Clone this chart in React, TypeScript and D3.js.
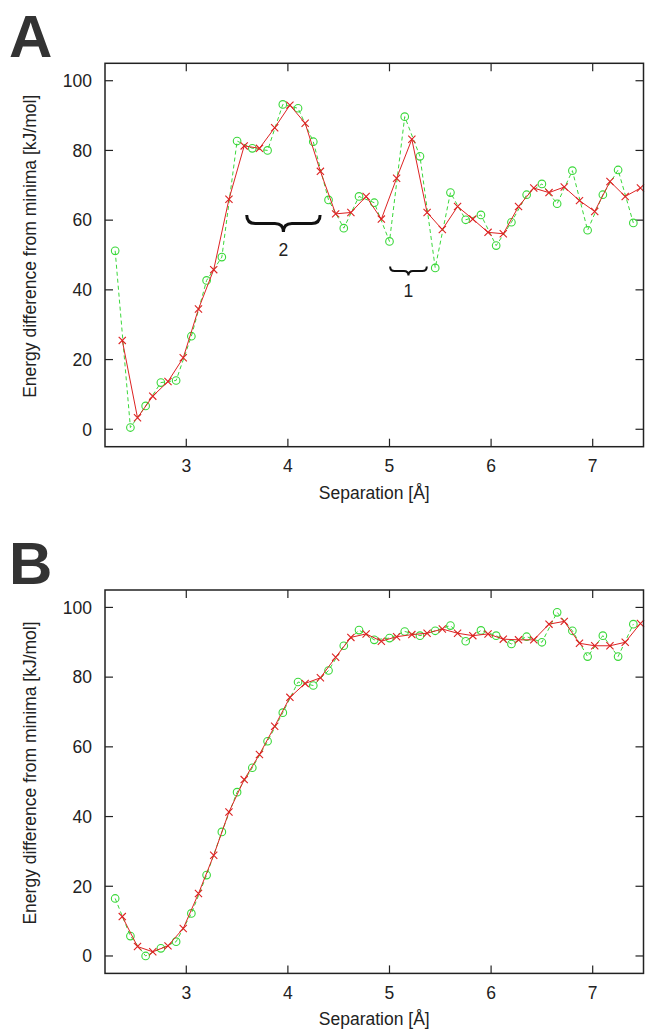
import React from 'react'
import * as d3 from 'd3'

// separations (Å) of the two sampled series, shared by both panels
const greenX = [2.30, 2.45, 2.60, 2.75, 2.90, 3.05, 3.20, 3.35, 3.50, 3.65, 3.80, 3.95, 4.10, 4.25, 4.40, 4.55, 4.70, 4.85, 5.00, 5.15, 5.30, 5.45, 5.60, 5.75, 5.90, 6.05, 6.20, 6.35, 6.50, 6.65, 6.80, 6.95, 7.10, 7.25, 7.40]
const redX = [2.37, 2.52, 2.67, 2.82, 2.97, 3.12, 3.27, 3.42, 3.57, 3.72, 3.87, 4.02, 4.17, 4.32, 4.47, 4.62, 4.77, 4.92, 5.07, 5.22, 5.37, 5.52, 5.67, 5.82, 5.97, 6.12, 6.27, 6.42, 6.57, 6.72, 6.87, 7.02, 7.17, 7.32, 7.47]

// panel A energies (kJ/mol)
const greenA = [51.2, 0.5, 6.7, 13.4, 14, 26.7, 42.7, 49.4, 82.7, 80.6, 80, 93.2, 92.1, 82.5, 65.8, 57.7, 66.8, 65, 53.9, 89.7, 78.3, 46.3, 67.9, 60.1, 61.5, 52.7, 59.4, 67.3, 70.4, 64.7, 74.2, 57.1, 67.3, 74.4, 59.2]
const redA = [25.5, 3.3, 9.5, 13.7, 20.5, 34.5, 45.8, 66, 81.3, 80.6, 86.5, 93, 87.8, 74, 61.8, 62.2, 66.8, 60.3, 72, 83.2, 62.2, 57.3, 63.9, 60.3, 56.5, 56.1, 63.9, 69.2, 67.9, 69.5, 65.6, 62.5, 71.1, 66.8, 69.2]

// panel B energies (kJ/mol)
const greenB = [16.5, 5.7, 0, 2.2, 4.1, 12.2, 23.2, 35.6, 47, 54, 61.6, 69.8, 78.6, 77.6, 81.9, 89, 93.5, 90.7, 91.2, 93.1, 91.9, 93.3, 94.8, 90.3, 93.4, 91.9, 89.5, 91.6, 90, 98.6, 93.3, 85.9, 91.9, 85.9, 95.2]
const redB = [11.3, 2.7, 1.2, 2.9, 7.9, 17.9, 28.9, 41.3, 50.6, 57.8, 65.9, 74.2, 78.2, 79.8, 85.7, 91.4, 92.4, 90.3, 91.6, 92.2, 92.6, 93.8, 92.6, 91.9, 92.4, 90.9, 90.7, 90.7, 95.2, 96, 89.7, 89, 89, 90, 95.4]

const xTicks = [3, 4, 5, 6, 7]
const yTicks = [0, 20, 40, 60, 80, 100]

// brace annotations in panel A
const bracesA = [
  { x1: 3.595, x2: 4.317, y: 61.5, label: '2' },
  { x1: 5.006, x2: 5.367, y: 46.7, label: '1' },
]

const FONT = '"Liberation Sans", Arial, Helvetica, sans-serif'
const W = 646
const H = 1030
const PLOT_H = 383.4

function bracePath(x1: number, x2: number, y: number, h: number) {
  const mid = (x1 + x2) / 2
  const q = h / 2
  return `M${x1},${y} Q${x1},${y + q} ${x1 + q},${y + q} L${mid - q},${y + q} Q${mid},${y + q} ${mid},${y + h} ` +
    `Q${mid},${y + q} ${mid + q},${y + q} L${x2 - q},${y + q} Q${x2},${y + q} ${x2},${y}`
}

function Panel({ top, letter, greenY, redY, braces }: any) {
  const x = d3.scaleLinear().domain([2.2, 7.5]).range([105, 643.5])
  const y = d3.scaleLinear().domain([-5, 105]).range([top + PLOT_H, top])
  const [x0, x1] = x.range()
  const bottom = top + PLOT_H

  const line = d3.line<[number, number]>().x(d => x(d[0])).y(d => y(d[1]))
  const gPts: [number, number][] = greenX.map((v, i) => [v, greenY[i]])
  const rPts: [number, number][] = redX.map((v, i) => [v, redY[i]])

  return (
    <g>
      <text x={9} y={top - 6} fontFamily={FONT} fontWeight="bold" fontSize={60} fill="#333">{letter}</text>

      {/* ticks, mirrored on all four sides */}
      {yTicks.map(t => (
        <g key={'y' + t}>
          <line x1={x0} x2={x0 + 8} y1={y(t)} y2={y(t)} stroke="#222" strokeWidth={1.2} />
          <line x1={x1 - 8} x2={x1} y1={y(t)} y2={y(t)} stroke="#222" strokeWidth={1.2} />
          <text x={92} y={y(t)} dy="0.36em" textAnchor="end" fontFamily={FONT} fontSize={17.5} fill="#222">{t}</text>
        </g>
      ))}
      {xTicks.map(t => (
        <g key={'x' + t}>
          <line x1={x(t)} x2={x(t)} y1={bottom} y2={bottom - 8} stroke="#222" strokeWidth={1.2} />
          <line x1={x(t)} x2={x(t)} y1={top} y2={top + 8} stroke="#222" strokeWidth={1.2} />
          <text x={x(t)} y={bottom + 19} dy="0.36em" textAnchor="middle" fontFamily={FONT} fontSize={17.5} fill="#222">{t}</text>
        </g>
      ))}

      <path d={line(gPts) || ''} fill="none" stroke="#3ad83a" strokeWidth={1} strokeDasharray="4,3" />
      {gPts.map((p, i) => (
        <circle key={'g' + i} cx={x(p[0])} cy={y(p[1])} r={3.8} fill="none" stroke="#3ad83a" strokeWidth={1.1} />
      ))}
      <path d={line(rPts) || ''} fill="none" stroke="#dd2222" strokeWidth={1} />
      {rPts.map((p, i) => {
        const cx = x(p[0]), cy = y(p[1]), s = 3.6
        return (
          <path key={'r' + i} d={`M${cx - s},${cy - s}L${cx + s},${cy + s}M${cx - s},${cy + s}L${cx + s},${cy - s}`}
            stroke="#dd2222" strokeWidth={1.1} />
        )
      })}

      {braces.map((b: any) => {
        const big = b.label === '2'
        const h = big ? 17 : 9
        const bx1 = x(b.x1), bx2 = x(b.x2), by = y(b.y)
        return (
          <g key={b.label}>
            <path d={bracePath(bx1, bx2, by, h)} fill="none" stroke="#111" strokeWidth={big ? 3 : 2} />
            <text x={(bx1 + bx2) / 2} y={by + h + (big ? 18 : 15)} dy="0.36em" textAnchor="middle"
              fontFamily={FONT} fontSize={17.5} fill="#222">{b.label}</text>
          </g>
        )
      })}

      <rect x={x0} y={top} width={x1 - x0} height={PLOT_H} fill="none" stroke="#222" strokeWidth={1.5} />

      <text x={(x0 + x1) / 2} y={bottom + 52} textAnchor="middle" fontFamily={FONT} fontSize={17.5} fill="#222">Separation [Å]</text>
      <text transform={`translate(36,${top + 183}) rotate(-90)`} textAnchor="middle" fontFamily={FONT} fontSize={17.5} fill="#222">
        Energy difference from minima [kJ/mol]
      </text>
    </g>
  )
}

export default function App() {
  return (
    <div style={{ position: 'absolute', left: 0, top: 0 }}>
      <svg width={W} height={H} style={{ display: 'block', background: '#fff' }}>
        <Panel top={63.3} letter="A" greenY={greenA} redY={redA} braces={bracesA} />
        <Panel top={590} letter="B" greenY={greenB} redY={redB} braces={[]} />
      </svg>
    </div>
  )
}
